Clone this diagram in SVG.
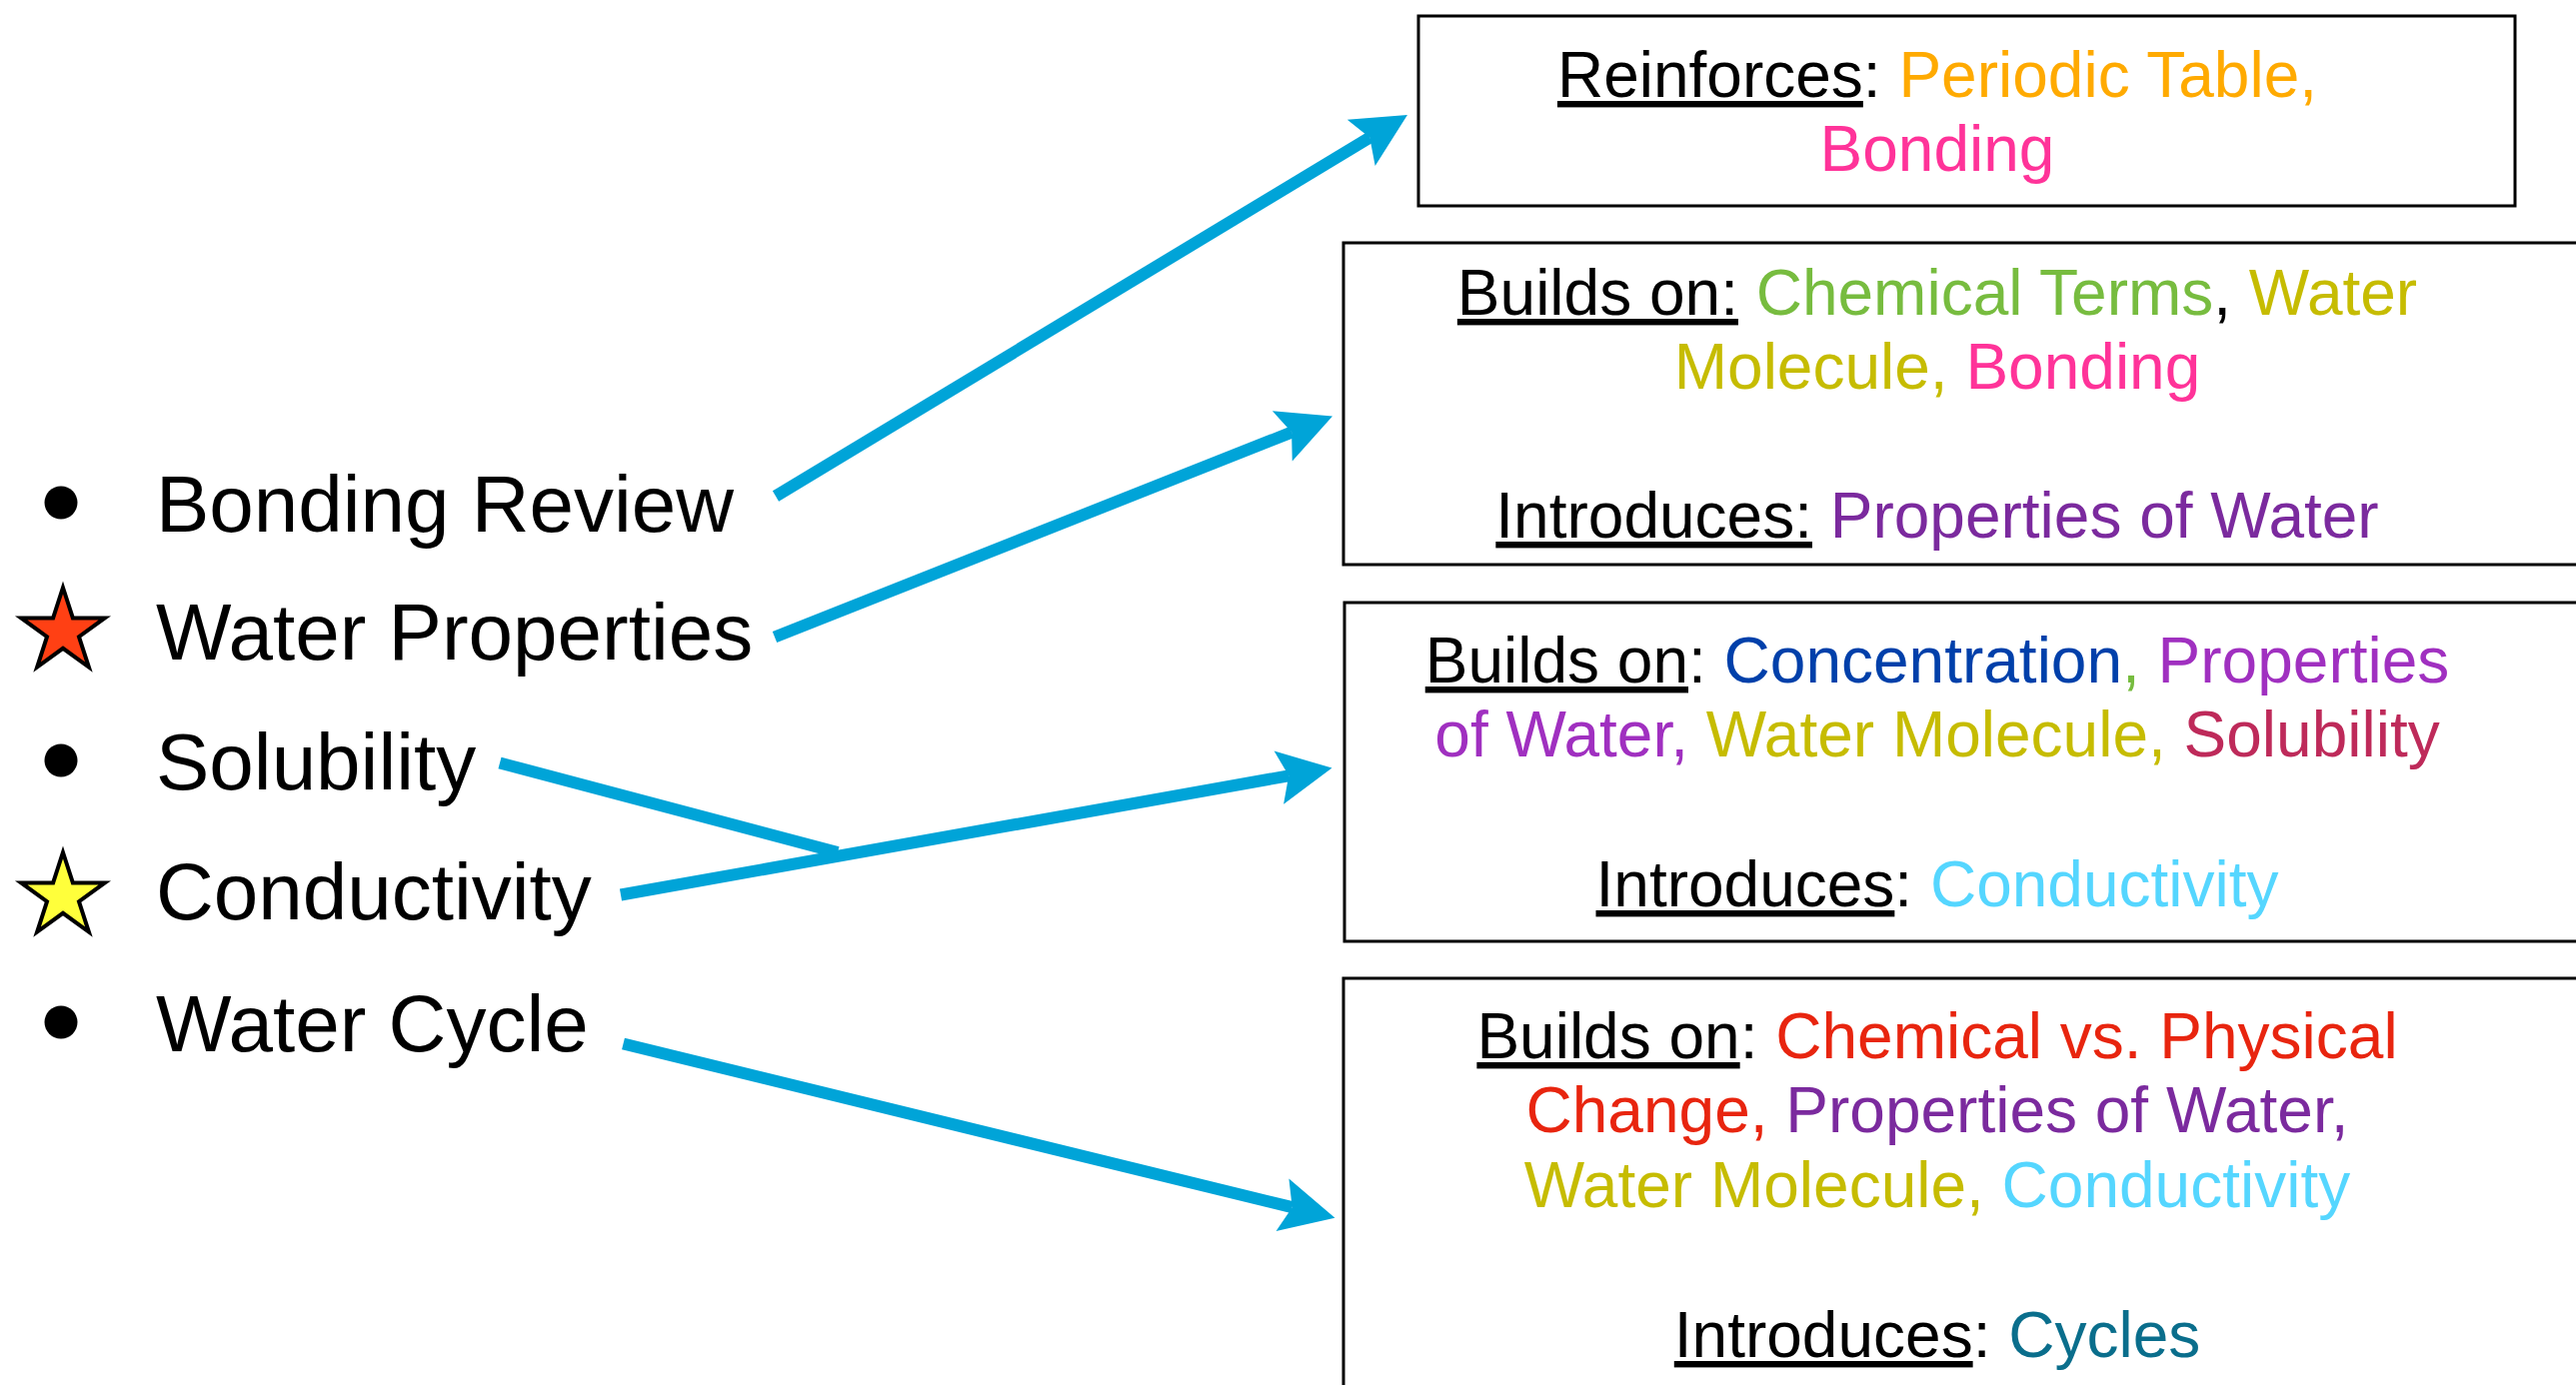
<svg xmlns="http://www.w3.org/2000/svg" xmlns:xlink="http://www.w3.org/1999/xlink" width="2577" height="1386" viewBox="0 0 2577 1386">
<style>
text{font-family:"Liberation Sans",Arial,sans-serif;fill:#000}
.item{font-size:80px}
.bx{font-size:64px;text-anchor:middle}
.u{text-decoration:underline}
.box{fill:#fff;stroke:#000;stroke-width:3}
.bul{fill:#000}
.star{stroke:#000;stroke-width:4;stroke-linejoin:miter}
.con{stroke:#00A4D8;stroke-width:12;fill:none;stroke-linecap:butt}
.orange{fill:#FFAA00}.pink{fill:#FF3399}.green{fill:#77BC3F}.olive{fill:#C6BC00}
.purple{fill:#7B2A9E}.violet{fill:#A030C0}.blue{fill:#0040AA}.crimson{fill:#BE2A5A}
.cyan{fill:#55D6FF}.red{fill:#E8250F}.teal{fill:#0A6E8C}
</style>
<defs>
<path id="star" d="M0,-44 L9.87,-13.59 L41.85,-13.6 L15.98,5.19 L25.86,35.6 L0,16.8 L-25.86,35.6 L-15.98,5.19 L-41.85,-13.6 L-9.87,-13.59 Z"/>
<marker id="ah" markerUnits="userSpaceOnUse" markerWidth="60" markerHeight="60" viewBox="0 -30 60 60" refX="10" refY="0" orient="auto" overflow="visible">
<path d="M54,0 L0,-27 L10,0 L0,27 Z" fill="#00A4D8"/>
</marker>
</defs>
<rect width="2577" height="1386" fill="#fff"/>

<g id="box-reinforces">
<rect class="box" x="1419" y="16" width="1097" height="190"/>
<text class="bx" x="1938" y="97"><tspan class="u">Reinforces</tspan>:<tspan class="orange"> Periodic Table,</tspan></text>
<text class="bx" x="1938" y="171"><tspan class="pink">Bonding</tspan></text>
</g>

<g id="box-water-properties">
<rect class="box" x="1344" y="243" width="1260" height="322"/>
<text class="bx" x="1938" y="315"><tspan class="u">Builds on:</tspan><tspan class="green"> Chemical Terms</tspan>,<tspan class="olive"> Water</tspan></text>
<text class="bx" x="1938" y="389"><tspan class="olive">Molecule,</tspan><tspan class="pink"> Bonding</tspan></text>
<text class="bx" x="1938" y="538"><tspan class="u">Introduces:</tspan><tspan class="purple"> Properties of Water</tspan></text>
</g>

<g id="box-conductivity">
<rect class="box" x="1345" y="603" width="1260" height="339"/>
<text class="bx" x="1938" y="683"><tspan class="u">Builds on</tspan>:<tspan class="blue"> Concentration</tspan><tspan class="green">,</tspan><tspan class="violet"> Properties</tspan></text>
<text class="bx" x="1938" y="757"><tspan class="violet">of Water,</tspan><tspan class="olive"> Water Molecule,</tspan><tspan class="crimson"> Solubility</tspan></text>
<text class="bx" x="1938" y="907"><tspan class="u">Introduces</tspan>:<tspan class="cyan"> Conductivity</tspan></text>
</g>

<g id="box-water-cycle">
<rect class="box" x="1344" y="979" width="1260" height="440"/>
<text class="bx" x="1938" y="1059"><tspan class="u">Builds on</tspan>:<tspan class="red"> Chemical vs. Physical</tspan></text>
<text class="bx" x="1938" y="1133"><tspan class="red">Change,</tspan><tspan class="purple"> Properties of Water,</tspan></text>
<text class="bx" x="1938" y="1208"><tspan class="olive">Water Molecule,</tspan><tspan class="cyan"> Conductivity</tspan></text>
<text class="bx" x="1938" y="1358"><tspan class="u">Introduces</tspan>:<tspan class="teal"> Cycles</tspan></text>
</g>

<g id="item-bonding-review">
<circle class="bul" cx="61" cy="503" r="16.5"/>
<text class="item" x="156" y="532">Bonding Review</text>
</g>
<g id="item-water-properties">
<use xlink:href="#star" href="#star" class="star" x="63" y="632" fill="#FF4014"/>
<text class="item" x="156" y="660">Water Properties</text>
</g>
<g id="item-solubility">
<circle class="bul" cx="61" cy="761" r="16.5"/>
<text class="item" x="156" y="790">Solubility</text>
</g>
<g id="item-conductivity">
<use xlink:href="#star" href="#star" class="star" x="63" y="897" fill="#FFFF3B"/>
<text class="item" x="156" y="920">Conductivity</text>
</g>
<g id="item-water-cycle">
<circle class="bul" cx="61" cy="1023" r="16.5"/>
<text class="item" x="156" y="1052">Water Cycle</text>
</g>

<g id="connectors">
<line class="con" x1="776" y1="496.5" x2="1370.3" y2="137.7" marker-end="url(#ah)"/>
<line class="con" x1="775" y1="637.5" x2="1292.1" y2="432.6" marker-end="url(#ah)"/>
<line class="con" x1="500" y1="763.5" x2="838" y2="853"/>
<line class="con" x1="621" y1="895.5" x2="1289.2" y2="776.3" marker-end="url(#ah)"/>
<line class="con" x1="623.5" y1="1044.5" x2="1292.7" y2="1208.2" marker-end="url(#ah)"/>
</g>
</svg>
